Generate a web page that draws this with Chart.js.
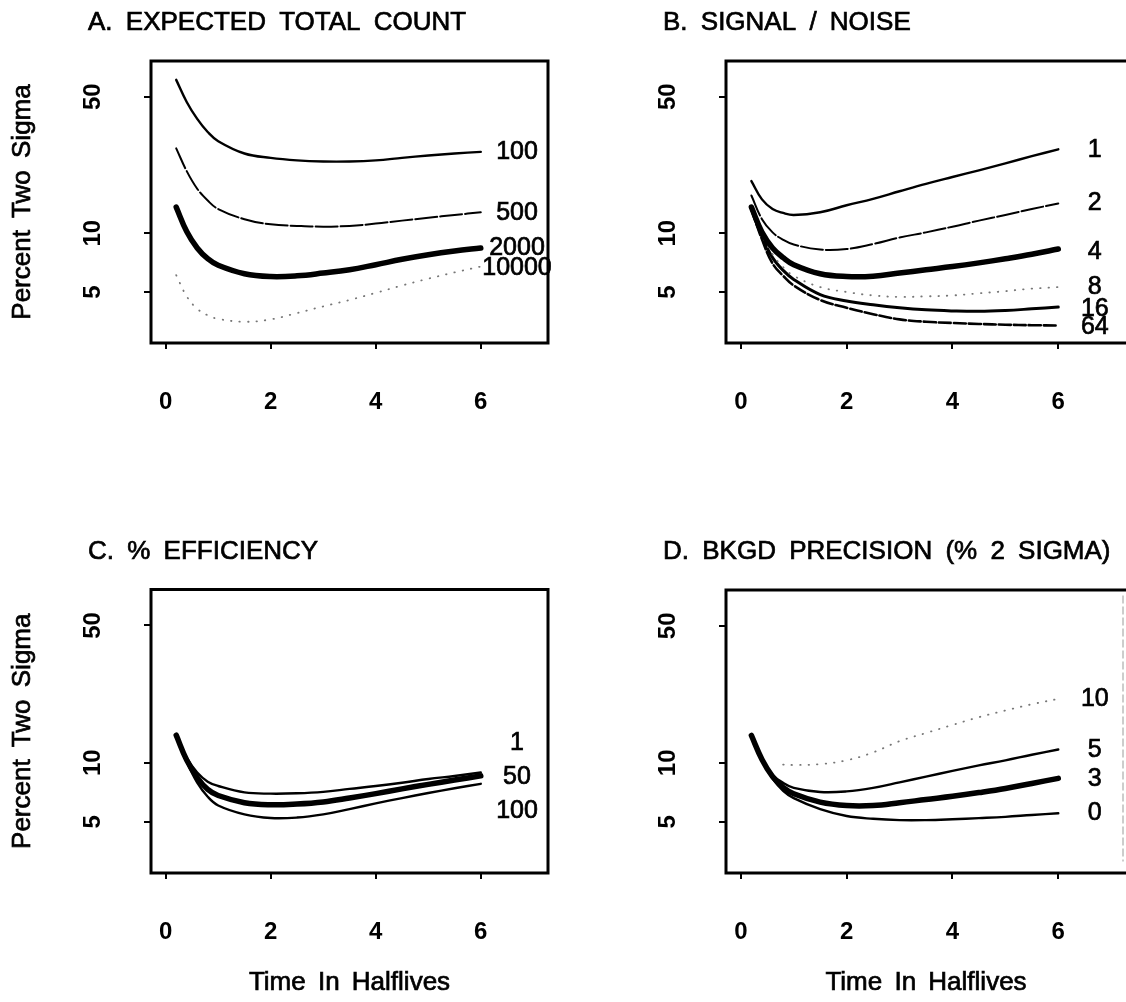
<!DOCTYPE html>
<html>
<head>
<meta charset="utf-8">
<title>Percent Two Sigma</title>
<script src="https://cdn.jsdelivr.net/npm/chart.js@4.4.1/dist/chart.umd.min.js"></script>
<style>
  html, body { margin: 0; padding: 0; background: #fff; overflow: hidden; }
  #folha { position: relative; width: 1126px; height: 1002px; background: #fff; }
  #folha canvas { position: absolute; }
</style>
</head>
<body>
<div id="folha">
  <canvas id="graficoA" width="563" height="500" style="left:0;top:0"></canvas>
  <canvas id="graficoB" width="563" height="500" style="left:563px;top:0"></canvas>
  <canvas id="graficoC" width="563" height="502" style="left:0;top:500px"></canvas>
  <canvas id="graficoD" width="563" height="502" style="left:563px;top:500px"></canvas>
</div>
<script>
//Eixos
const tempos = [0.2, 0.4, 0.6, 0.8, 1, 1.5, 2, 2.5, 3, 3.5, 4, 4.5, 5, 5.5, 6];
const ticksX = [0, 2, 4, 6];
const ticksY = [5, 10, 50];

//A. Expected total count
const contagem100 = [61, 47, 38.5, 33, 29.6, 25.6, 24.3, 23.6, 23.3, 23.3, 23.6, 24.3, 25, 25.6, 26.1];
const contagem500 = [27.2, 20.8, 16.9, 14.7, 13.3, 11.8, 11.1, 10.9, 10.8, 10.9, 11.2, 11.6, 12.0, 12.4, 12.8];
const contagem2000 = [13.6, 10.2, 8.4, 7.4, 6.85, 6.2, 6.0, 6.05, 6.25, 6.5, 6.9, 7.35, 7.75, 8.1, 8.4];
const contagem10000 = [6.1, 4.75, 4.1, 3.8, 3.64, 3.52, 3.62, 3.9, 4.22, 4.55, 4.95, 5.4, 5.85, 6.3, 6.75];
const rotulosA = ['100', '500', '2000', '10000'];
const nivelRotulosA = [25.9, 12.7, 8.43, 6.65];

//B. Signal / noise
const sinal1 = [18.5, 14.9, 13.3, 12.7, 12.4, 12.8, 13.9, 15.0, 16.4, 17.9, 19.4, 21.0, 22.8, 24.8, 26.9];
const sinal2 = [15.6, 11.8, 10.1, 9.25, 8.75, 8.25, 8.3, 8.8, 9.5, 10.1, 10.8, 11.6, 12.4, 13.3, 14.2];
const sinal4 = [13.6, 10.1, 8.4, 7.5, 6.9, 6.2, 6.0, 6.02, 6.25, 6.5, 6.75, 7.05, 7.4, 7.8, 8.3];
const sinal8 = [13.5, 9.8, 7.8, 6.7, 6.05, 5.3, 5.0, 4.8, 4.72, 4.75, 4.8, 4.92, 5.05, 5.2, 5.3];
const sinal16 = [13.3, 9.6, 7.5, 6.45, 5.8, 4.85, 4.5, 4.3, 4.15, 4.05, 4.0, 3.98, 4.02, 4.1, 4.19];
const sinal64 = [13.2, 9.3, 7.0, 6.05, 5.4, 4.55, 4.15, 3.85, 3.62, 3.52, 3.47, 3.43, 3.4, 3.38, 3.37];
const rotulosB = ['1', '2', '4', '8', '16', '64'];
const nivelRotulosB = [26.6, 14.2, 8.0, 5.3, 4.1, 3.31];

//C. % Efficiency
const eficiencia1 = [13.8, 10.6, 8.9, 8.0, 7.6, 7.05, 6.95, 6.98, 7.1, 7.35, 7.6, 7.9, 8.25, 8.55, 8.9];
const eficiencia50 = [13.8, 10.3, 8.4, 7.3, 6.8, 6.25, 6.1, 6.15, 6.3, 6.6, 6.95, 7.35, 7.75, 8.15, 8.56];
const eficiencia100 = [13.8, 10.1, 7.9, 6.7, 6.05, 5.45, 5.22, 5.25, 5.45, 5.8, 6.2, 6.6, 7.0, 7.4, 7.8];
const rotulosC = ['1', '50', '100'];
const nivelRotulosC = [12.5, 8.43, 5.64];

//D. Bkgd precision
const fundo10 = [null, null, null, 9.8, 9.75, 9.85, 10.3, 11.3, 12.9, 14.2, 15.6, 17.1, 18.5, 19.9, 21.2];
const fundo5 = [13.8, 10.5, 8.7, 7.9, 7.45, 7.1, 7.15, 7.45, 7.95, 8.5, 9.1, 9.7, 10.3, 11.0, 11.7];
const fundo3 = [13.8, 10.4, 8.5, 7.5, 6.95, 6.3, 6.05, 6.05, 6.25, 6.5, 6.75, 7.05, 7.4, 7.85, 8.33];
const fundo0 = [13.8, 10.3, 8.3, 7.2, 6.6, 5.8, 5.35, 5.18, 5.1, 5.1, 5.15, 5.22, 5.3, 5.42, 5.53];
const rotulosD = ['10', '5', '3', '0'];
const nivelRotulosD = [21.2, 11.6, 8.24, 5.53];

const fonte = '"Liberation Sans", Arial, Helvetica, sans-serif';

//Estilos de linha
const fina = { largura: 2.4 };
const tracejada = { largura: 2, traco: [22, 3] };
const media = { largura: 3 };
const mediaTracejada = { largura: 2.6, traco: [12, 3] };
const grossa = { largura: 5.5 };
const pontilhada = { largura: 1.8, traco: [0.5, 8], capa: 'round', cor: '#777' };

// texto com um leve contorno, para imitar o peso da impressao
const escreve = (ctx, texto, x, y) => {
    ctx.fillText(texto, x, y);
    ctx.strokeText(texto, x, y);
};

// Plugin: caixa, titulo, rotulos dos ticks Y e nomes das curvas
const pluginTextos = {
    id: 'textos',
    afterDraw: (chart, args, opts) => {
        const ctx = chart.ctx;
        const a = chart.chartArea;
        const x = chart.scales.x;
        const y = chart.scales.y;
        ctx.save();

        ctx.strokeStyle = '#000';
        ctx.lineWidth = 3;
        ctx.lineCap = 'square';
        ctx.beginPath();
        ctx.moveTo(a.right, a.top);
        ctx.lineTo(a.left, a.top);
        ctx.lineTo(a.left, a.bottom);
        ctx.lineTo(a.right, a.bottom);
        if (opts.bordaDireita === 'solida') {
            ctx.lineTo(a.right, a.top);
        }
        ctx.stroke();
        if (opts.bordaDireita === 'tracejada') {
            ctx.lineWidth = 1;
            ctx.strokeStyle = '#9a9a9a';
            ctx.setLineDash([7, 4]);
            ctx.beginPath();
            ctx.moveTo(a.right - 3, a.top + 6);
            ctx.lineTo(a.right - 3, a.bottom - 12);
            ctx.stroke();
            ctx.setLineDash([]);
        }

        ctx.fillStyle = '#000';
        ctx.strokeStyle = '#000';
        ctx.lineWidth = 0.7;
        ctx.lineCap = 'butt';
        ctx.textBaseline = 'middle';

        // titulo do painel
        ctx.font = '26px ' + fonte;
        ctx.textAlign = 'left';
        if ('wordSpacing' in ctx) ctx.wordSpacing = '6px';
        escreve(ctx, opts.titulo, a.left - 63, a.top - 38);

        // rotulos dos ticks Y (girados)
        ctx.font = 'bold 24px ' + fonte;
        ctx.textAlign = 'center';
        y.ticks.forEach(t => {
            ctx.save();
            ctx.translate(a.left - 58, y.getPixelForValue(t.value));
            ctx.rotate(-Math.PI / 2);
            ctx.fillText(String(t.value), 0, 0);
            ctx.restore();
        });

        // titulos dos eixos
        ctx.font = '26px ' + fonte;
        if ('wordSpacing' in ctx) ctx.wordSpacing = '5px';
        if (opts.tituloY) {
            ctx.save();
            ctx.translate(a.left - 128, (a.top + a.bottom) / 2);
            ctx.rotate(-Math.PI / 2);
            escreve(ctx, opts.tituloY, 0, 0);
            ctx.restore();
        }
        if (opts.tituloX) {
            escreve(ctx, opts.tituloX, (a.left + a.right) / 2, a.bottom + 110);
        }
        if ('wordSpacing' in ctx) ctx.wordSpacing = '0px';

        // nomes das curvas
        ctx.font = '25px ' + fonte;
        const px = x.getPixelForValue(opts.xRotulo);
        opts.rotulos.forEach((r, i) => {
            escreve(ctx, r, px, y.getPixelForValue(opts.niveis[i]));
        });

        ctx.restore();
    }
};

const Grafico = {
    /**
     * Monta um dataset de linha a partir dos valores e do estilo
     */
    Serie: (valores, estilo) => {
        return {
            data: tempos.map((t, i) => ({ x: t, y: valores[i] })),
            borderColor: estilo.cor || '#000',
            borderWidth: estilo.largura,
            borderDash: estilo.traco || [],
            borderCapStyle: estilo.capa || 'round',
            borderJoinStyle: 'round',
            pointRadius: 0,
            fill: false,
            spanGaps: false,
            tension: 0.4
        };
    },
    /**
     * Configuracao de um painel (area do grafico controlada pelo padding)
     */
    ConfigChart: (painel) => {
        const marca = {
            display: true,
            drawOnChartArea: false,
            drawTicks: true,
            color: '#000',
            lineWidth: 2
        };
        return {
            type: 'line',
            data: { datasets: painel.series },
            plugins: [pluginTextos],
            options: {
                responsive: false,
                animation: false,
                devicePixelRatio: 1,
                events: [],
                layout: { padding: painel.padding },
                scales: {
                    x: {
                        type: 'linear',
                        min: -0.28,
                        max: 7.28,
                        afterBuildTicks: s => { s.ticks = ticksX.map(v => ({ value: v })); },
                        afterFit: s => { s.height = 100; },
                        grid: Object.assign({ tickLength: 6 }, marca),
                        border: { display: false },
                        ticks: {
                            padding: 39,
                            color: '#000',
                            font: { family: fonte, size: 24, weight: 'bold' }
                        }
                    },
                    y: {
                        type: 'logarithmic',
                        min: 2.74,
                        max: 76.2,
                        afterBuildTicks: s => { s.ticks = ticksY.map(v => ({ value: v })); },
                        afterFit: s => { s.width = painel.larguraY; },
                        grid: Object.assign({ tickLength: 7 }, marca),
                        border: { display: false },
                        ticks: { display: false }
                    }
                },
                plugins: {
                    legend: { display: false },
                    tooltip: { enabled: false },
                    textos: painel.textos
                }
            }
        };
    },
    NewChart: (canvasId, painel) => {
        try {
            return new Chart(document.getElementById(canvasId), Grafico.ConfigChart(painel));
        } catch (erro) {
            console.log(erro);
        }
    }
};

Grafico.NewChart('graficoA', {
    larguraY: 151,
    padding: { left: 0, right: 15, top: 61, bottom: 57 },
    series: [
        Grafico.Serie(contagem100, fina),
        Grafico.Serie(contagem500, tracejada),
        Grafico.Serie(contagem2000, grossa),
        Grafico.Serie(contagem10000, pontilhada)
    ],
    textos: {
        titulo: 'A. EXPECTED TOTAL COUNT',
        tituloY: 'Percent Two Sigma',
        rotulos: rotulosA, niveis: nivelRotulosA, xRotulo: 6.69,
        bordaDireita: 'solida'
    }
});

Grafico.NewChart('graficoB', {
    larguraY: 163,
    padding: { left: 0, right: 0, top: 61, bottom: 57 },
    series: [
        Grafico.Serie(sinal1, fina),
        Grafico.Serie(sinal2, tracejada),
        Grafico.Serie(sinal4, grossa),
        Grafico.Serie(sinal8, pontilhada),
        Grafico.Serie(sinal16, media),
        Grafico.Serie(sinal64, mediaTracejada)
    ],
    textos: {
        titulo: 'B. SIGNAL / NOISE',
        rotulos: rotulosB, niveis: nivelRotulosB, xRotulo: 6.69,
        bordaDireita: 'nenhuma'
    }
});

Grafico.NewChart('graficoC', {
    larguraY: 151,
    padding: { left: 0, right: 15, top: 89.5, bottom: 29 },
    series: [
        Grafico.Serie(eficiencia1, fina),
        Grafico.Serie(eficiencia50, grossa),
        Grafico.Serie(eficiencia100, fina)
    ],
    textos: {
        titulo: 'C. % EFFICIENCY',
        tituloY: 'Percent Two Sigma',
        tituloX: 'Time In Halflives',
        rotulos: rotulosC, niveis: nivelRotulosC, xRotulo: 6.69,
        bordaDireita: 'solida'
    }
});

Grafico.NewChart('graficoD', {
    larguraY: 163,
    padding: { left: 0, right: 0, top: 90, bottom: 29 },
    series: [
        Grafico.Serie(fundo10, pontilhada),
        Grafico.Serie(fundo5, fina),
        Grafico.Serie(fundo3, grossa),
        Grafico.Serie(fundo0, fina)
    ],
    textos: {
        titulo: 'D. BKGD PRECISION (% 2 SIGMA)',
        tituloX: 'Time In Halflives',
        rotulos: rotulosD, niveis: nivelRotulosD, xRotulo: 6.69,
        bordaDireita: 'tracejada'
    }
});
</script>
</body>
</html>
